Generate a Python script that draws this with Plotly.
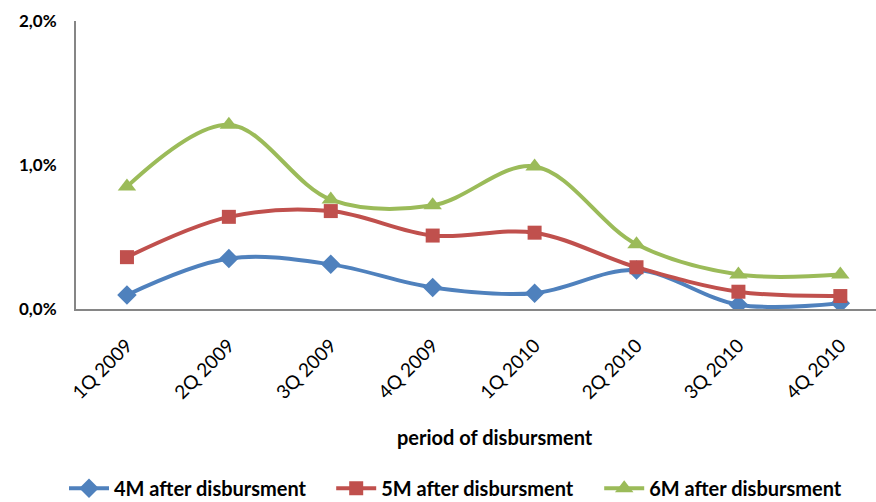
import plotly.graph_objects as go

# Quarter of disbursement
periods = ["1Q 2009", "2Q 2009", "3Q 2009", "4Q 2009",
           "1Q 2010", "2Q 2010", "3Q 2010", "4Q 2010"]

# Default rates (as fractions) measured n months after disbursement
m4 = [0.00097, 0.0035, 0.0031, 0.0015, 0.0011, 0.0027, 0.0003, 0.0004]
m5 = [0.0036, 0.0064, 0.0068, 0.0051, 0.0053, 0.0029, 0.0012, 0.0009]
m6 = [0.0085, 0.0128, 0.0076, 0.0072, 0.0099, 0.0045, 0.0024, 0.0024]

series = [
    ("4M after disbursment", m4, "#4F81BD", "diamond", 15, "legend", -0.015),
    ("5M after disbursment", m5, "#C0504D", "square", 14, "legend2", 0.319),
    ("6M after disbursment", m6, "#9BBB59", "triangle-up", 16, "legend3", 0.654),
]

FONT = "Lato"
LEGEND_FONT = dict(family=FONT, size=20, color="black", weight="bold")

fig = go.Figure()
legends = {}
for name, vals, color, symbol, size, leg, lx in series:
    fig.add_trace(go.Scatter(
        x=list(range(len(periods))), y=vals, name=name, legend=leg,
        mode="lines+markers",
        line=dict(color=color, width=4, shape="spline", smoothing=1.0),
        marker=dict(symbol=symbol, size=size, color=color),
    ))
    legends[leg] = dict(
        orientation="h", x=lx, xanchor="left", y=-0.622, yanchor="middle",
        font=LEGEND_FONT, itemwidth=40, bgcolor="rgba(0,0,0,0)",
    )

fig.update_layout(
    width=876, height=502,
    margin=dict(l=76, r=0, t=21, b=193, autoexpand=False),
    paper_bgcolor="white", plot_bgcolor="white",
    separators=", ",
    font=dict(family=FONT, color="black"),
    showlegend=True,
    xaxis=dict(
        range=[-0.5, 7.35], automargin=False,
        tickmode="array", tickvals=list(range(len(periods))), ticktext=periods,
        tickangle=-45, tickfont=dict(size=19, family=FONT),
        ticks="", showgrid=False, zeroline=False,
        showline=True, linecolor="#868686", linewidth=2,
        ticklabelstandoff=16,
    ),
    yaxis=dict(
        range=[0, 0.02], tickvals=[0, 0.01, 0.02], tickformat=".1%",
        automargin=False,
        tickfont=dict(size=17, family=FONT, weight="bold"),
        ticks="", showgrid=False, zeroline=False,
        showline=True, linecolor="#868686", linewidth=2,
        ticklabelstandoff=14,
    ),
    annotations=[dict(
        text="period of disbursment", xref="paper", yref="paper",
        x=0.524, y=-0.446, xanchor="center", yanchor="middle", showarrow=False,
        font=dict(size=20, family=FONT, weight="bold", color="black"),
    )],
    **legends,
)

fig.write_html("out.html")
